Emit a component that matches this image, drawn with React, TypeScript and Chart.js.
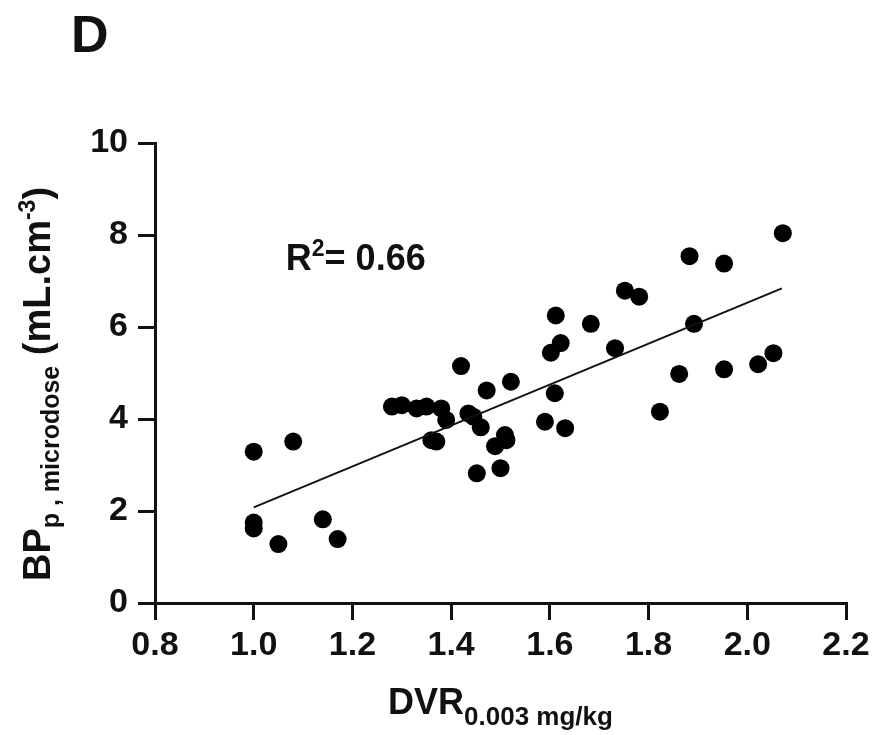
import React, { useEffect, useRef } from "react";
import { Chart, registerables } from "chart.js";

Chart.register(...registerables);

// Scatter data: DVR (0.003 mg/kg) vs BPp (microdose)
const dvrValues = [
  1.0, 1.0, 1.0, 1.05, 1.08, 1.14, 1.17,
  1.28, 1.3, 1.33, 1.35, 1.38, 1.39, 1.36, 1.37,
  1.42, 1.435, 1.445, 1.46, 1.472, 1.452, 1.489, 1.509, 1.512, 1.5, 1.521,
  1.59, 1.61, 1.631, 1.602, 1.622, 1.612, 1.683, 1.732, 1.752, 1.781,
  1.823, 1.862, 1.883, 1.892, 1.953, 1.953, 2.022, 2.053, 2.072,
];
const bpValues = [
  3.29, 1.75, 1.62, 1.28, 3.51, 1.82, 1.39,
  4.27, 4.3, 4.23, 4.27, 4.23, 3.98, 3.54, 3.51,
  5.15, 4.12, 4.05, 3.82, 4.62, 2.82, 3.41, 3.65, 3.54, 2.93, 4.81,
  3.94, 4.56, 3.8, 5.44, 5.65, 6.25, 6.07, 5.54, 6.79, 6.66,
  4.16, 4.98, 7.54, 6.07, 7.38, 5.08, 5.19, 5.43, 8.04,
];

// Regression line end points
const fitX = [1.0, 2.07];
const fitY = [2.08, 6.84];

const xTicks = [0.8, 1.0, 1.2, 1.4, 1.6, 1.8, 2.0, 2.2];
const yTicks = [0, 2, 4, 6, 8, 10];

const panelLabel = "D";
const r2Label = "0.66";

const FONT = '"Liberation Sans", Arial, Helvetica, sans-serif';
const INK = "#111";

const textPlugin = {
  id: "textPlugin",
  afterDraw(chart: any) {
    const ctx = chart.ctx as CanvasRenderingContext2D;
    const area = chart.chartArea;
    const xs = chart.scales.x;
    const ys = chart.scales.y;
    ctx.save();
    ctx.fillStyle = INK;
    ctx.textBaseline = "alphabetic";
    ctx.textAlign = "left";

    // Panel label
    ctx.font = `bold 52px ${FONT}`;
    ctx.fillText(panelLabel, 71, 52);

    // R^2 annotation
    let ax = xs.getPixelForValue(1.065);
    const ay = ys.getPixelForValue(7.25);
    ctx.font = `bold 36px ${FONT}`;
    ctx.fillText("R", ax, ay);
    ax += ctx.measureText("R").width;
    ctx.font = `bold 23px ${FONT}`;
    ctx.fillText("2", ax, ay - 14);
    ax += ctx.measureText("2").width;
    ctx.font = `bold 36px ${FONT}`;
    ctx.fillText("= " + r2Label, ax, ay);

    // X axis title
    const xMainFont = `bold 36px ${FONT}`;
    const xSubFont = `bold 26px ${FONT}`;
    ctx.font = xMainFont;
    const wMain = ctx.measureText("DVR").width;
    ctx.font = xSubFont;
    const wSub = ctx.measureText("0.003 mg/kg").width;
    let tx = (area.left + area.right) / 2 - (wMain + wSub) / 2;
    ctx.font = xMainFont;
    ctx.fillText("DVR", tx, 714);
    ctx.font = xSubFont;
    ctx.fillText("0.003 mg/kg", tx + wMain, 725);

    // Y axis title (rotated)
    const parts: [string, string, number][] = [
      ["BP", `bold 38px ${FONT}`, 0],
      ["p , microdose", `bold 25px ${FONT}`, 9],
      [" (mL.cm", `bold 38px ${FONT}`, 0],
      ["-3", `bold 23px ${FONT}`, -15],
      [")", `bold 38px ${FONT}`, 0],
    ];
    let total = 0;
    for (const [t, f] of parts) {
      ctx.font = f;
      total += ctx.measureText(t).width;
    }
    const cy = 384;
    ctx.translate(50, cy);
    ctx.rotate(-Math.PI / 2);
    let px = -total / 2;
    for (const [t, f, dy] of parts) {
      ctx.font = f;
      ctx.fillText(t, px, dy);
      px += ctx.measureText(t).width;
    }
    ctx.restore();
  },
};

export default function App() {
  const ref = useRef<HTMLCanvasElement | null>(null);
  useEffect(() => {
    if (!ref.current) return;
    const points = dvrValues.map((x, i) => ({ x, y: bpValues[i] }));
    const fit = fitX.map((x, i) => ({ x, y: fitY[i] }));
    const chart = new Chart(ref.current, {
      type: "scatter",
      data: {
        datasets: [
          {
            type: "line",
            data: fit,
            borderColor: INK,
            borderWidth: 2,
            pointRadius: 0,
            showLine: true,
            fill: false,
            clip: false,
          } as any,
          {
            data: points,
            backgroundColor: "#000",
            borderColor: "#000",
            borderWidth: 0,
            pointRadius: 9,
            clip: false,
          } as any,
        ],
      },
      options: {
        responsive: false,
        animation: false,
        layout: { padding: { top: 143, right: 32, left: 0, bottom: 0 } },
        plugins: { legend: { display: false }, tooltip: { enabled: false } },
        scales: {
          x: {
            type: "linear",
            min: 0.8,
            max: 2.2,
            afterBuildTicks: (s: any) => {
              s.ticks = xTicks.map((v) => ({ value: v }));
            },
            afterFit: (s: any) => {
              s.height = 132;
            },
            ticks: {
              color: INK,
              font: { family: FONT, size: 34, weight: "bold" },
              padding: 5,
              maxRotation: 0,
              autoSkip: false,
              callback: (v: any) => Number(v).toFixed(1),
            },
            grid: {
              display: true,
              drawOnChartArea: false,
              drawTicks: true,
              tickLength: 17,
              lineWidth: 3,
              color: INK,
            },
            border: { display: true, width: 3, color: INK },
          },
          y: {
            type: "linear",
            min: 0,
            max: 10,
            afterBuildTicks: (s: any) => {
              s.ticks = yTicks.map((v) => ({ value: v }));
            },
            afterFit: (s: any) => {
              s.width = 155;
            },
            ticks: {
              color: INK,
              font: { family: FONT, size: 34, weight: "bold" },
              padding: 10,
              autoSkip: false,
              callback: (v: any) => String(v),
            },
            grid: {
              display: true,
              drawOnChartArea: false,
              drawTicks: true,
              tickLength: 17,
              lineWidth: 3,
              color: INK,
            },
            border: { display: true, width: 3, color: INK },
          },
        },
      },
      plugins: [textPlugin],
    });
    return () => chart.destroy();
  }, []);
  return (
    <div style={{ position: "fixed", left: 0, top: 0, width: 878, height: 735, background: "#fff" }}>
      <canvas ref={ref} width={878} height={735} style={{ display: "block" }} />
    </div>
  );
}
